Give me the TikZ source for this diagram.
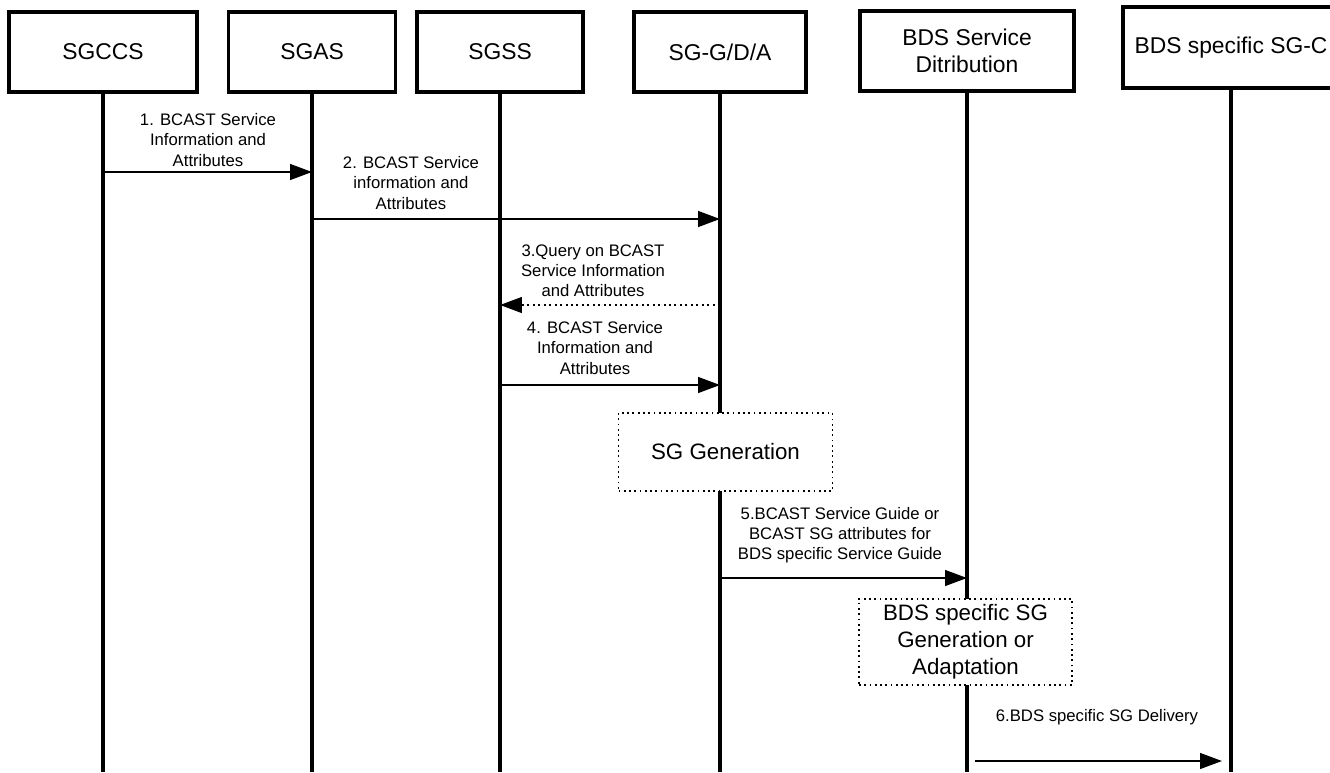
\documentclass[tikz,border=0pt]{standalone}
\usepackage{fontspec}
\setmainfont{Liberation Sans}
\usetikzlibrary{positioning,arrows.meta}

\begin{document}
\begin{tikzpicture}[
    x=0.02cm, y=-0.02cm,
    entity/.style={rectangle, draw, line width=2pt, minimum height=1.6cm, align=center, font=\fontsize{13}{15}\selectfont},
    lifeline/.style={line width=1.9pt},
    msg/.style={line width=1.1pt, -{Triangle[length=12.5pt,width=9pt]}},
    reply/.style={msg, dotted},
    msglabel/.style={align=center, inner sep=0pt, font=\fontsize{9.5}{11.4}\selectfont},
    process/.style={rectangle, draw, dotted, line width=1pt, fill=white, align=center, minimum width=4.28cm, minimum height=1.56cm, font=\fontsize{12.7}{15.4}\selectfont}
]
    \useasboundingbox (0,0) rectangle (1330,772);

    \node[entity, minimum width=3.76cm] (sgccs) at (103,52) {SGCCS};
    \node[entity, minimum width=3.34cm] (sgas) at (312,52) {SGAS};
    \node[entity, minimum width=3.32cm] (sgss) at (500,52) {SGSS};
    \node[entity, minimum width=3.44cm] (sgg) at (720,52) {SG-G/D/A};
    \node[entity, minimum width=4.28cm] (bdsd) at (967,51) {BDS Service\\Ditribution};
    \node[entity, minimum width=4.32cm, minimum height=1.62cm] (bdsc) at (1231,47.5) {BDS specific SG-C};

    \foreach \n in {sgccs,sgas,sgss,sgg,bdsd,bdsc}
        \draw[lifeline] (\n.south) -- (\n |- 0,772);

    \node[process] (sggen) at (725.5,452) {SG Generation};
    \node[process, minimum width=4.26cm] (bdsgen) at (965.5,642) {BDS specific SG\\Generation or\\Adaptation};

    \node[msglabel] (l1) at (208,140) {1. BCAST Service\\Information and\\Attributes};
    \node[msglabel] (l2) at (411,183) {2. BCAST Service\\information and\\Attributes};
    \node[msglabel] (l3) at (593,271) {3.Query on BCAST\\Service Information\\and Attributes};
    \node[msglabel] (l4) at (595,348) {4. BCAST Service\\Information and\\Attributes};
    \node[msglabel] (l5) at (840,535) {5.BCAST Service Guide or\\BCAST SG attributes for\\BDS specific Service Guide};
    \node[msglabel] (l6) at (1097,717) {6.BDS specific SG Delivery};

    \draw[msg] (sgccs |- 0,172) -- (sgas |- 0,172);
    \draw[msg] (sgas |- 0,219) -- (sgg |- 0,219);
    \draw[reply] (sgg |- 0,305) -- (sgss |- 0,305);
    \draw[msg] (sgss |- 0,385) -- (sgg |- 0,385);
    \draw[msg] (sgg |- 0,578) -- (bdsd |- 0,578);
    \draw[msg, shorten <=0.16cm, shorten >=0.18cm] (bdsd |- 0,761) -- (bdsc |- 0,761);
\end{tikzpicture}
\end{document}
